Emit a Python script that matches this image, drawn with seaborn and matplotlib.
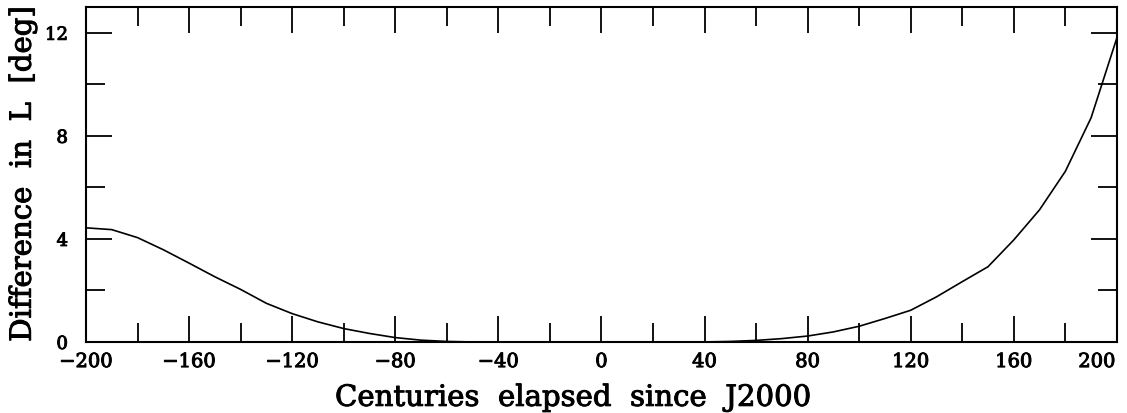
import numpy as np
import pandas as pd
import matplotlib
matplotlib.use("Agg")
import matplotlib.pyplot as plt
import matplotlib.transforms as mtransforms
import matplotlib.patheffects as pe
from matplotlib.ticker import MultipleLocator
import seaborn as sns

# Curve (centuries since J2000 vs difference in L)
centuries = [-200, -190, -180, -170, -160, -150, -140, -130, -120, -110,
             -100, -90, -80, -70, -60, -50, -40, -30, -20, -10,
             0, 10, 20, 30, 40, 50, 60, 70, 80, 90,
             100, 110, 120, 130, 140, 150, 160, 170, 180, 190, 200]
diff_deg = [4.43, 4.36, 4.05, 3.58, 3.06, 2.53, 2.04, 1.50, 1.10, 0.78,
            0.52, 0.33, 0.17, 0.07, 0.02, 0.0, 0.0, 0.0, 0.0, 0.0,
            0.0, 0.0, 0.0, 0.0, 0.0, 0.02, 0.06, 0.13, 0.23, 0.39,
            0.61, 0.91, 1.23, 1.75, 2.34, 2.92, 3.96, 5.13, 6.62, 8.70, 11.80]

x_ticks = [-200, -160, -120, -80, -40, 0, 40, 80, 120, 160, 200]
y_ticks = [0, 4, 8, 12]

df = pd.DataFrame({"centuries": centuries, "diff": diff_deg})

sns.set_theme(style="ticks")
plt.rcParams["font.family"] = ["DejaVu Serif"]
plt.rcParams["text.color"] = "black"
plt.rcParams["axes.labelcolor"] = "black"

# slightly heavier strokes, like the old plotting-package font
thick = [pe.withStroke(linewidth=0.7, foreground="black")]

fig = plt.figure(figsize=(11.27, 4.13), dpi=100)
ax = fig.add_axes([0.0763, 0.172, 0.9147, 0.811])

sns.lineplot(data=df, x="centuries", y="diff", ax=ax, color="black", linewidth=1.2)

ax.set_xlim(-200, 200)
ax.set_ylim(0, 13)
ax.set_xticks(x_ticks)
ax.set_yticks(y_ticks)
ax.set_xticklabels([f"\u2212{abs(v)}" if v < 0 else str(v) for v in x_ticks])
ax.xaxis.set_minor_locator(MultipleLocator(20))
ax.yaxis.set_minor_locator(MultipleLocator(2))

ax.tick_params(which="both", direction="in", top=True, right=True, width=1.3,
               colors="black")
ax.tick_params(which="major", length=19)
ax.tick_params(which="minor", length=14)
ax.tick_params(axis="x", which="major", pad=8, labelsize=14)
ax.tick_params(axis="y", which="major", pad=13, labelsize=13)

for side in ax.spines.values():
    side.set_visible(True)
    side.set_linewidth(1.5)
    side.set_color("black")

for lab in ax.get_xticklabels() + ax.get_yticklabels():
    lab.set_path_effects(thick)

# last x label is pushed inside the figure as in the original
last = ax.get_xticklabels()[-1]
last.set_transform(last.get_transform() + mtransforms.ScaledTranslation(-0.2, 0, fig.dpi_scale_trans))

ax.set_xlabel("Centuries  elapsed  since  J2000", fontsize=21, labelpad=2,
              path_effects=thick)
ax.xaxis.set_label_coords(0.472, -0.125)
ax.set_ylabel("Difference  in  L  [deg]", fontsize=21, labelpad=6,
              path_effects=thick)

fig.savefig("out.png", dpi=100)
